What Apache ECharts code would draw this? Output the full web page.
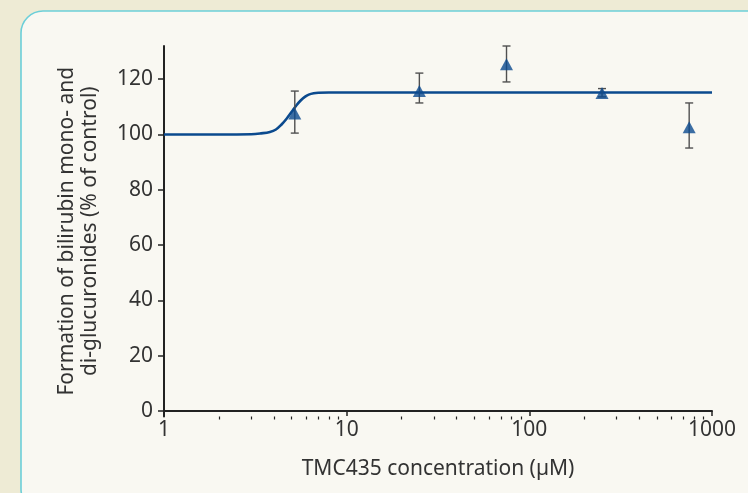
<!DOCTYPE html>
<html>
<head>
<meta charset="utf-8">
<script src="https://cdn.jsdelivr.net/npm/echarts@6/dist/echarts.min.js"></script>
<style>
html,body{margin:0;padding:0;background:#eeebd5;}
#c{width:748px;height:493px;}
</style>
</head>
<body>
<div id="c"></div>
<script>
// Measured data (TMC435 concentration in µM, % of control)
const concentrations = [5.2, 25, 75, 250, 750];
const meanValues = [107.6, 115.7, 125.4, 115.0, 102.6];
const errLow = [100.5, 111.4, 119.0, 113.6, 95.1];
const errHigh = [115.7, 122.2, 132.0, 116.6, 111.4];

// fitted curve, points
const curveX = [1, 2, 3, 3.4, 3.8, 4.1, 4.4, 4.7, 5.0, 5.3, 5.6, 5.9, 6.2, 6.6, 7.0, 8, 10, 100, 1000];
const curveY = [100, 100, 100.1, 100.4, 100.9, 101.8, 103.6, 105.8, 108.2, 110.5, 112.3, 113.6, 114.4, 114.9, 115.1, 115.2, 115.2, 115.2, 115.2];

const xMajorTicks = [1, 10, 100, 1000];
const xMinorTicks = [2,3,4,5,6,7,8,9,20,30,40,50,60,70,80,90,200,300,400,500,600,700,800,900];
const yTicks = [0, 20, 40, 60, 80, 100, 120];

const curveData = curveX.map((x, i) => [x, curveY[i]]);
const pointData = concentrations.map((x, i) => [x, meanValues[i]]);
const errData = concentrations.map((x, i) => [x, errLow[i], errHigh[i]]);

const FONT = 'Noto Sans';
const TXT = '#333333';

const chart = echarts.init(document.getElementById('c'), null, {renderer: 'canvas'});
chart.setOption({
  backgroundColor: '#eeebd5',
  animation: false,
  graphic: [{
    type: 'rect', z: -10, silent: true,
    shape: {x: 21, y: 11, width: 780, height: 500, r: 22},
    style: {fill: '#f9f8f2', stroke: '#6ccfd9', lineWidth: 1.6}
  }],
  grid: {left: 164, right: 36, top: 46, bottom: 76.5, containLabel: false},
  xAxis: [{
    type: 'log', logBase: 10, min: 1, max: 1000,
    name: 'TMC435 concentration (µM)', nameLocation: 'middle', nameGap: 42,
    nameTextStyle: {fontFamily: FONT, fontSize: 21, color: TXT},
    axisLine: {show: true, onZero: true, lineStyle: {color: '#222', width: 2}},
    axisTick: {show: true, length: 5, inside: false, customValues: xMajorTicks, lineStyle: {color: '#222', width: 1.5}},
    axisLabel: {fontFamily: FONT, fontSize: 21, color: TXT, margin: 3, customValues: xMajorTicks,
      formatter: function (v) { return String(v); }},
    splitLine: {show: false}
  }, {
    type: 'log', logBase: 10, min: 1, max: 1000, position: 'bottom',
    axisLine: {show: false, onZero: true},
    axisTick: {show: true, length: 3, inside: false, customValues: xMinorTicks, lineStyle: {color: '#222', width: 1.2}},
    axisLabel: {show: false},
    splitLine: {show: false}
  }],
  yAxis: {
    type: 'value', min: -2, max: 132,
    name: 'Formation of bilirubin mono- and\ndi-glucuronides (% of control)',
    nameLocation: 'middle', nameGap: 62, nameRotate: 90,
    nameTextStyle: {fontFamily: FONT, fontSize: 21, color: TXT, lineHeight: 23, align: 'center'},
    axisLine: {show: true, lineStyle: {color: '#222', width: 2}},
    axisTick: {show: true, length: 6, customValues: yTicks, lineStyle: {color: '#222', width: 1.5}},
    axisLabel: {fontFamily: FONT, fontSize: 21, color: TXT, margin: 11, customValues: yTicks},
    splitLine: {show: false}
  },
  series: [{
    type: 'line', data: curveData, smooth: 0.4, showSymbol: false, symbol: 'none',
    lineStyle: {color: '#0b4a8e', width: 2.6}, z: 2
  }, {
    type: 'custom', data: errData, z: 3,
    renderItem: function (params, api) {
      const x = api.value(0);
      const lo = api.coord([x, api.value(1)]);
      const hi = api.coord([x, api.value(2)]);
      const w = 4;
      const st = {stroke: '#505050', lineWidth: 1.4};
      return {type: 'group', children: [
        {type: 'line', shape: {x1: lo[0], y1: lo[1], x2: hi[0], y2: hi[1]}, style: st},
        {type: 'line', shape: {x1: lo[0]-w, y1: lo[1], x2: lo[0]+w, y2: lo[1]}, style: st},
        {type: 'line', shape: {x1: hi[0]-w, y1: hi[1], x2: hi[0]+w, y2: hi[1]}, style: st}
      ]};
    }
  }, {
    type: 'scatter', data: pointData, symbol: 'triangle', symbolSize: [13, 12], z: 4,
    itemStyle: {color: '#0b4a8e'}
  }]
});
</script>
</body>
</html>
